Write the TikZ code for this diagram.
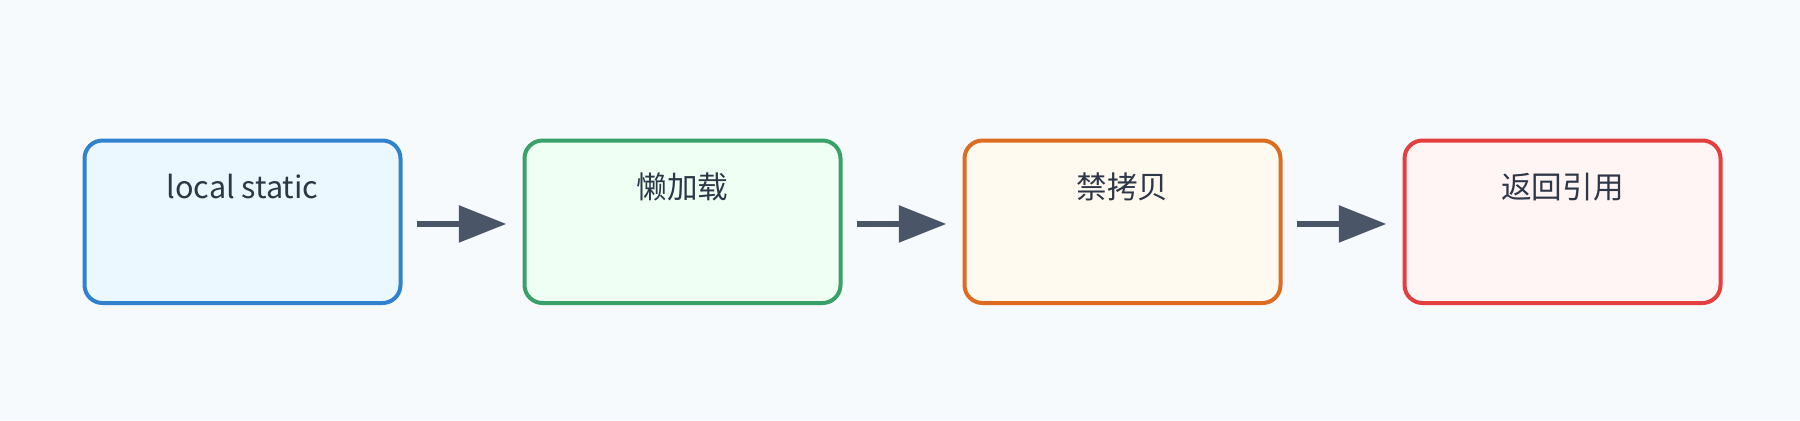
\documentclass[tikz,border=0pt]{standalone}
\usepackage{fontspec}
\setmainfont{Noto Sans CJK SC}
\usetikzlibrary{positioning,arrows.meta}

\definecolor{bgpage}{HTML}{F7FAFC}
\definecolor{txtdark}{HTML}{2D3748}
\definecolor{arrowgray}{HTML}{4A5568}
\definecolor{blueline}{HTML}{3182CE}
\definecolor{bluefill}{HTML}{EBF8FF}
\definecolor{greenline}{HTML}{38A169}
\definecolor{greenfill}{HTML}{F0FFF4}
\definecolor{orangeline}{HTML}{DD6B20}
\definecolor{orangefill}{HTML}{FFFAF0}
\definecolor{redline}{HTML}{E53E3E}
\definecolor{redfill}{HTML}{FFF5F5}

\begin{document}
\begin{tikzpicture}[
  stagebox/.style={draw=#1line, fill=#1fill, line width=2pt, rounded corners=9pt,
    minimum width=158pt, minimum height=81.25pt, inner sep=0pt, outer sep=0pt},
  stagetext/.style={anchor=base, text=txtdark, font=\fontsize{15.3pt}{18pt}\selectfont},
  flowarrow/.style={draw=arrowgray, line width=3.3pt, shorten <=8pt, shorten >=9pt,
    -{Triangle[length=23.8pt, width=17.8pt]}},
  node distance=62pt
]

\fill [bgpage] (0,0) rectangle (900pt,-210pt) ;
\useasboundingbox (0,0) rectangle (900pt,-210pt) ;

\node (local) at (121.25pt,-110.875pt) [stagebox=blue] {} ;
\node (lazy) [stagebox=green, right=of local] {} ;
\node (nocopy) [stagebox=orange, right=of lazy] {} ;
\node (retref) [stagebox=red, right=of nocopy] {} ;

\node (localtext) at ([yshift=-29pt]local.north) [stagetext] {local static} ;
\node (lazytext) at ([yshift=-29pt]lazy.north) [stagetext] {懒加载} ;
\node (nocopytext) at ([yshift=-29pt]nocopy.north) [stagetext] {禁拷贝} ;
\node (retreftext) at ([yshift=-29pt]retref.north) [stagetext] {返回引用} ;

\draw [flowarrow] ([yshift=-1.1pt]local.east) -- ([yshift=-1.1pt]lazy.west) ;
\draw [flowarrow] ([yshift=-1.1pt]lazy.east) -- ([yshift=-1.1pt]nocopy.west) ;
\draw [flowarrow] ([yshift=-1.1pt]nocopy.east) -- ([yshift=-1.1pt]retref.west) ;
\end{tikzpicture}
\end{document}
